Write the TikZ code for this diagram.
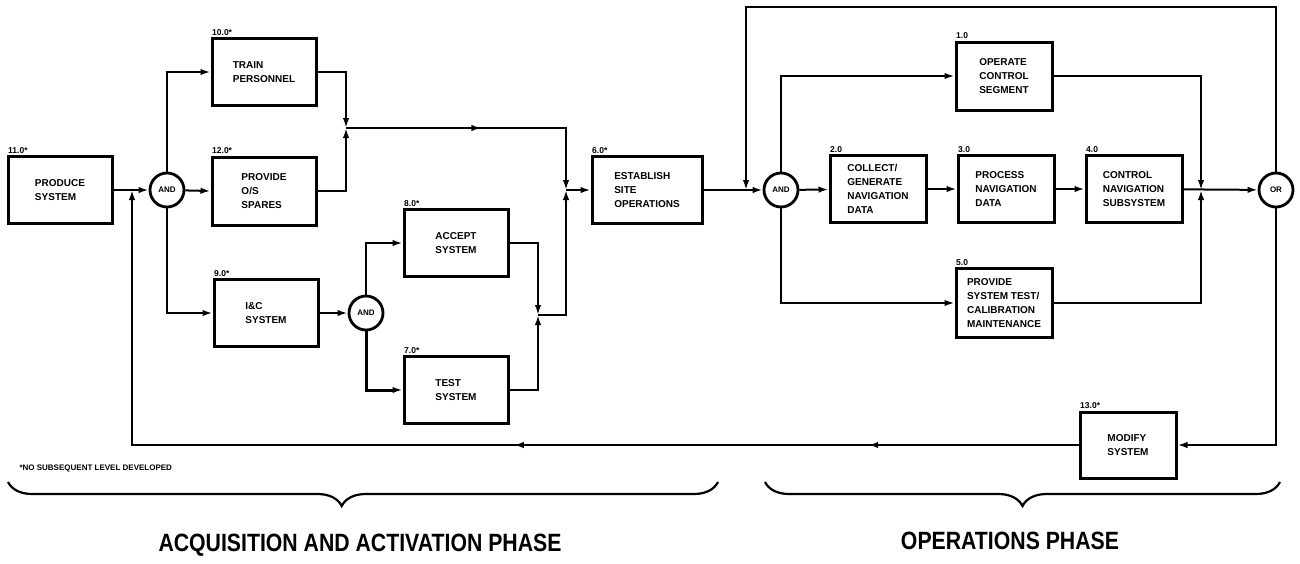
\documentclass[tikz,border=0pt]{standalone}
\usepackage{fontspec}
\setmainfont{Liberation Sans}
\newfontfamily\phasefont[FakeStretch=0.85]{Liberation Sans}
\usepackage{tikz}
\usetikzlibrary{arrows.meta,positioning,decorations.markings,decorations.pathreplacing}

\begin{document}
\begin{tikzpicture}[x=1pt,y=-1pt,node distance=29pt,>={Latex[length=10pt,width=6.5pt]},
  every node/.style={font=\fontsize{10}{14}\selectfont\bfseries},
  box/.style={draw,line width=3pt,minimum width=104pt,minimum height=67pt,align=left,inner sep=2pt},
  gate/.style={draw,circle,line width=2.8pt,minimum size=34pt,inner sep=0pt,font=\fontsize{8}{8}\selectfont\bfseries},
  num/.style={anchor=south west,inner sep=1.5pt,font=\fontsize{8.5}{9}\selectfont\bfseries},
  flow/.style={->,line width=2pt},
  midtip/.style={postaction={decorate,decoration={markings,mark=at position #1 with {\arrow{>}}}}}]
\useasboundingbox (0,0) rectangle (1300,563);
\node[box,label={[num]north west:11.0*}] (prod) at (60,190) {PRODUCE\\SYSTEM};
\node[gate] (and1) at (167,190) {AND};
\node[box,label={[num]north west:10.0*}] (train) at (264,72) {TRAIN\\PERSONNEL};
\node[box,minimum height=68pt,label={[num]north west:12.0*}] (spares) at (264,191) {PROVIDE\\O/S\\SPARES};
\node[box,label={[num]north west:9.0*}] (ic) at (266,313) {I\&C\\SYSTEM};
\node[gate] (and2) at (366,313) {AND};
\node[box,label={[num]north west:8.0*}] (accept) at (456,243) {ACCEPT\\SYSTEM};
\node[box,label={[num]north west:7.0*}] (test) at (456,390) {TEST\\SYSTEM};
\node[box,minimum width=110pt,label={[num]north west:6.0*}] (estab) at (647,190) {ESTABLISH\\SITE\\OPERATIONS};
\node[gate] (and3) at (781,190) {AND};
\node[box,minimum width=96pt,label={[num]north west:2.0}] (collect) at (878,189) {COLLECT/\\GENERATE\\NAVIGATION\\DATA};
\node[box,minimum width=96pt,right=of collect,label={[num]north west:3.0}] (process) {PROCESS\\NAVIGATION\\DATA};
\node[box,minimum width=96pt,right=of process,label={[num]north west:4.0}] (control) {CONTROL\\NAVIGATION\\SUBSYSTEM};
\node[gate] (orgate) at (1276,190) {OR};
\node[box,minimum width=96pt,minimum height=68pt,label={[num]north west:1.0}] (operate) at (1004,76) {OPERATE\\CONTROL\\SEGMENT};
\node[box,minimum width=96pt,minimum height=69pt,label={[num]north west:5.0}] (provide) at (1004,303) {PROVIDE\\SYSTEM TEST/\\CALIBRATION\\MAINTENANCE};
\node[box,minimum width=96pt,minimum height=66pt,label={[num]north west:13.0*}] (modify) at (1128,445) {MODIFY\\SYSTEM};
\coordinate (fb) at (132,190);
\coordinate (jA) at (346,128);
\coordinate (jB) at (566,190);
\coordinate (jC) at (538,315);
\coordinate (jD) at (746,190);
\coordinate (jE) at (1201,190);
\coordinate (topL) at (746,7);
\draw[flow] (prod) -- (and1);
\draw[flow] (and1.north) |- (train.west);
\draw[flow] (and1) -- (spares.west);
\draw[flow] (and1.south) |- (ic.west);
\draw[flow] (train.east) -| (jA);
\draw[flow] (spares.east) -| (jA);
\draw[flow,midtip=0.48] (jA) -| (jB);
\draw[flow] (ic) -- (and2);
\draw[flow] (and2.north) |- (accept.west);
\draw[flow,line width=3pt] (and2.south) |- (test.west);
\draw[flow] (accept.east) -| (jC);
\draw[flow] (test.east) -| (jC);
\draw[flow] (jC) -| (jB);
\draw[flow] (jB) -- (estab);
\draw[flow] (estab) -- (and3);
\draw[flow] (orgate.north) |- (topL) -- (jD);
\draw[flow] (and3.north) |- (operate.west);
\draw[flow] (and3) -- (collect);
\draw[flow] (collect) -- (process);
\draw[flow] (process) -- (control);
\draw[flow] (and3.south) |- (provide.west);
\draw[flow] (operate.east) -| (jE);
\draw[flow] (provide.east) -| (jE);
\draw[flow] (control) -- (orgate);
\draw[flow] (orgate.south) |- (modify.east);
\draw[flow,midtip=0.175,midtip=0.47] (modify.west) -| (fb);
\node[anchor=west,font=\fontsize{8}{8}\selectfont\bfseries] (note) at (16,468) {*NO SUBSEQUENT LEVEL DEVELOPED};
\draw[line width=2.2pt,decorate,decoration={brace,amplitude=24pt,aspect=0.53}] (718,482) -- (8,482);
\draw[line width=2.2pt,decorate,decoration={brace,amplitude=24pt,aspect=0.5}] (1280,482) -- (765,482);
\node[font=\phasefont\bfseries\fontsize{25}{25}\selectfont] (acq) at (360,545) {ACQUISITION AND ACTIVATION PHASE};
\node[font=\phasefont\bfseries\fontsize{25}{25}\selectfont] (ops) at (1010,541) {OPERATIONS PHASE};
\end{tikzpicture}
\end{document}
